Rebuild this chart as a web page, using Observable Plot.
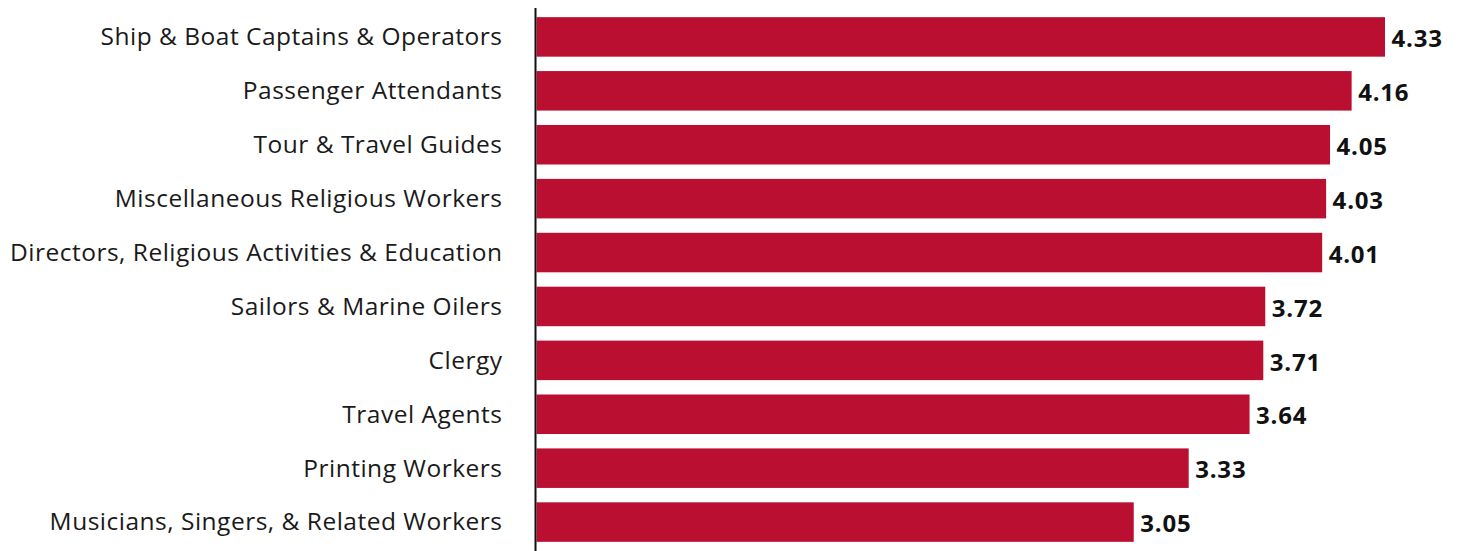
<!DOCTYPE html>
<html>
<head>
<meta charset="utf-8">
<script src="https://cdn.jsdelivr.net/npm/d3@7"></script>
<script src="https://cdn.jsdelivr.net/npm/@observablehq/plot@0.6"></script>
<style>
  html, body { margin: 0; padding: 0; background: #fff; }
  #chart svg { display: block; }
  #chart g[aria-label="y-axis tick label"] text { letter-spacing: 0.5px; }
  #chart g[aria-label="text"] text { letter-spacing: 0.8px; }
</style>
</head>
<body>
<div id="chart"></div>
<script>
const occupations = [
  "Ship & Boat Captains & Operators",
  "Passenger Attendants",
  "Tour & Travel Guides",
  "Miscellaneous Religious Workers",
  "Directors, Religious Activities & Education",
  "Sailors & Marine Oilers",
  "Clergy",
  "Travel Agents",
  "Printing Workers",
  "Musicians, Singers, & Related Workers"
];
const scores = [4.33, 4.16, 4.05, 4.03, 4.01, 3.72, 3.71, 3.64, 3.33, 3.05];

const data = occupations.map((name, i) => ({name, value: scores[i]}));

const chart = Plot.plot({
  width: 1464,
  height: 551,
  marginLeft: 535,
  marginRight: 79,
  marginTop: 8,
  marginBottom: 0,
  style: {fontFamily: "'Open Sans', sans-serif", color: "#1a1a1a"},
  x: {domain: [0, 4.33], axis: null},
  y: {domain: occupations, paddingInner: 0.267, paddingOuter: 0.17, round: false, label: null},
  marks: [
    Plot.barX(data, {x: "value", y: "name", fill: "#BA0F30", insetLeft: 1.5}),
    Plot.text(data, {x: "value", y: "name", text: d => d.value.toFixed(2), textAnchor: "start", dx: 6, dy: 2, fontSize: 24, fontWeight: "bold", fill: "#111"}),
    Plot.axisY({tickSize: 0, tickPadding: 33, fontSize: 24.5, label: null, fill: "#1a1a1a"}),
    Plot.ruleX([0], {stroke: "#111", strokeWidth: 2})
  ]
});
document.getElementById("chart").append(chart);
</script>
</body>
</html>
